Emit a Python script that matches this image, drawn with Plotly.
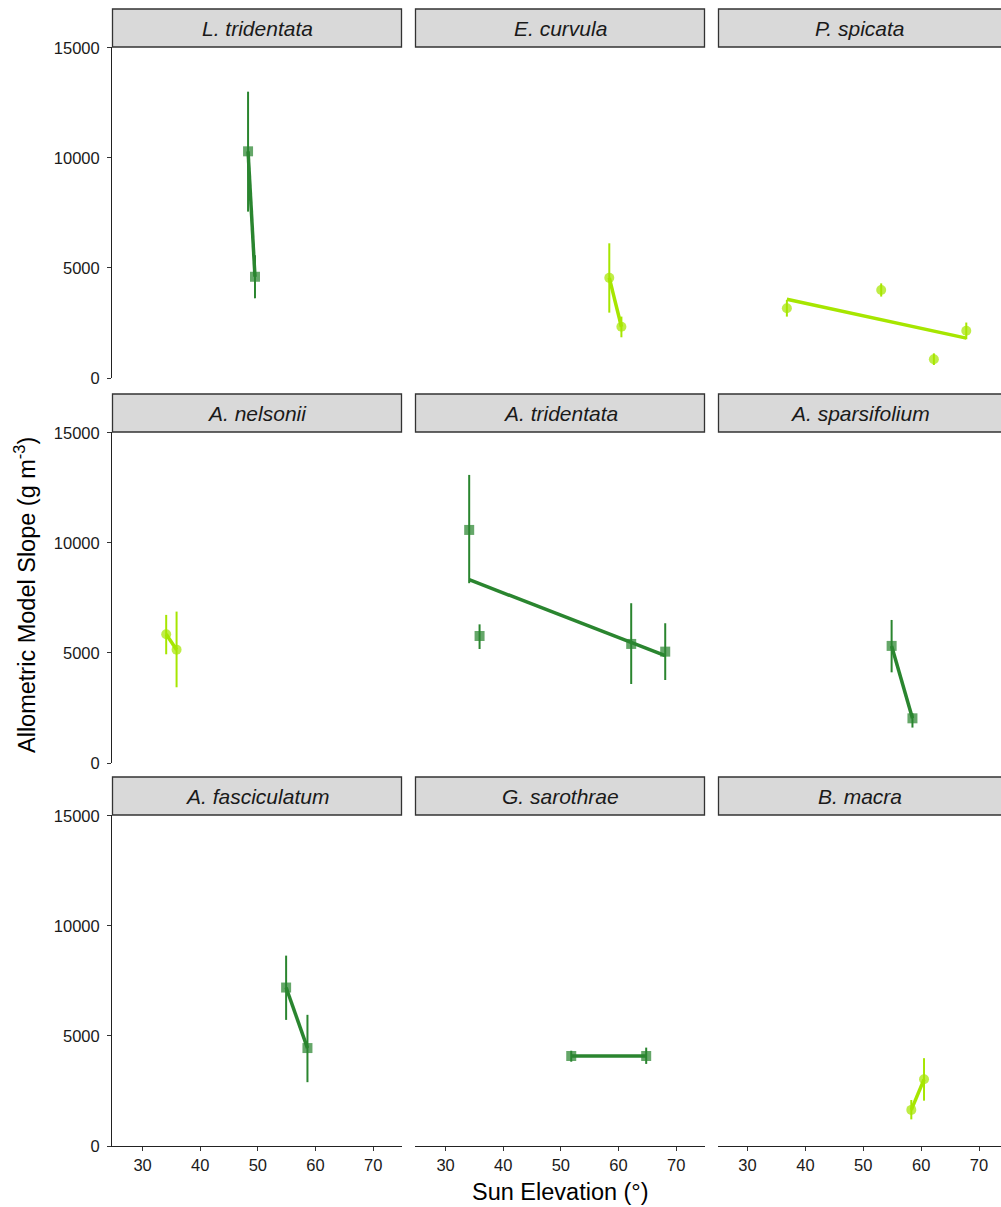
import numpy as np
import plotly.graph_objects as go

# ---------------- data ----------------
panels = ["L. tridentata", "E. curvula", "P. spicata",
          "A. nelsonii", "A. tridentata", "A. sparsifolium",
          "A. fasciculatum", "G. sarothrae", "B. macra"]
panel_group = ["dark", "light", "light",
               "light", "dark", "dark",
               "dark", "dark", "light"]

point_species = ["L. tridentata", "L. tridentata",
                 "E. curvula", "E. curvula",
                 "P. spicata", "P. spicata", "P. spicata", "P. spicata",
                 "A. nelsonii", "A. nelsonii",
                 "A. tridentata", "A. tridentata", "A. tridentata", "A. tridentata",
                 "A. sparsifolium", "A. sparsifolium",
                 "A. fasciculatum", "A. fasciculatum",
                 "G. sarothrae", "G. sarothrae",
                 "B. macra", "B. macra"]
sun_elevation = [48.3, 49.5,
                 58.4, 60.5,
                 36.8, 53.1, 62.2, 67.8,
                 34.1, 35.9,
                 34.1, 35.9, 62.2, 68.1,
                 54.9, 58.5,
                 54.9, 58.6,
                 51.8, 64.8,
                 58.3, 60.5]
model_slope = [10300, 4600,
               4550, 2330,
               3170, 4000, 850, 2150,
               5850, 5150,
               10590, 5770, 5410, 5060,
               5320, 2030,
               7200, 4450,
               4090, 4090,
               1640, 3030]
slope_lower = [7560, 3620,
               2970, 1850,
               2790, 3700, 590, 1760,
               4940, 3440,
               8170, 5180, 3590, 3770,
               4120, 1610,
               5730, 2900,
               3830, 3730,
               1210, 2060]
slope_upper = [13010, 5580,
               6120, 2790,
               3550, 4300, 1120, 2520,
               6730, 6880,
               13090, 6300, 7260, 6350,
               6500, 2260,
               8650, 5960,
               4330, 4470,
               2090, 3990]

x_ticks = [30, 40, 50, 60, 70]
y_ticks = [0, 5000, 10000, 15000]

# ---------------- styling ----------------
W, H = 1001, 1207
colors = {"dark": "#2a852f", "light": "#a6e600"}
marker_fill = {"dark": "rgba(42,133,47,0.72)", "light": "rgba(166,230,0,0.72)"}
symbols = {"dark": "square", "light": "circle"}

col_px = [(112, 402), (415, 705), (718, 1001)]
row_px = [(47, 378), (432, 763), (815, 1146)]
strip_h = 38
x_ranges = [[24.7, 75.0], [24.7, 75.0], [24.9, 73.8]]
y_range = [0, 15040]

font_family = "Liberation Sans, Arial, sans-serif"
tick_font = dict(family=font_family, size=16.5, color="#1a1a1a")

fig = go.Figure()
layout = dict(width=W, height=H, margin=dict(l=0, r=0, t=0, b=0, autoexpand=False),
              plot_bgcolor="white", paper_bgcolor="white", showlegend=False)
shapes, annotations = [], []

sp_arr = np.array(point_species)
x_arr = np.array(sun_elevation, dtype=float)
y_arr = np.array(model_slope, dtype=float)
lo_arr = np.array(slope_lower, dtype=float)
hi_arr = np.array(slope_upper, dtype=float)

for i, name in enumerate(panels):
    r, c = divmod(i, 3)
    k = i + 1
    xa = f"x{k}" if k > 1 else "x"
    ya = f"y{k}" if k > 1 else "y"
    xkey = f"xaxis{k}" if k > 1 else "xaxis"
    ykey = f"yaxis{k}" if k > 1 else "yaxis"
    x0, x1 = col_px[c]
    y0, y1 = row_px[r]
    bottom = r == 2
    left = c == 0
    layout[xkey] = dict(domain=[x0 / W, x1 / W], range=x_ranges[c], anchor=ya,
                        tickvals=x_ticks, showticklabels=bottom, tickformat="d",
                        ticks="outside" if bottom else "", ticklen=4, tickwidth=1,
                        tickcolor="#333333", showline=bottom, linecolor="#222222",
                        linewidth=1, showgrid=False, zeroline=False, tickfont=tick_font)
    layout[ykey] = dict(domain=[1 - y1 / H, 1 - y0 / H], range=y_range, anchor=xa,
                        tickvals=y_ticks, showticklabels=left, tickformat="d",
                        ticks="outside" if left else "", ticklen=4, tickwidth=1,
                        ticklabelstandoff=4,
                        tickcolor="#333333", showline=left, linecolor="#222222",
                        linewidth=1, showgrid=False, zeroline=False, tickfont=tick_font)

    g = panel_group[i]
    m = sp_arr == name
    xs, ys, los, his = x_arr[m], y_arr[m], lo_arr[m], hi_arr[m]
    fig.add_trace(go.Scatter(
        x=xs, y=ys, mode="markers", xaxis=xa, yaxis=ya,
        marker=dict(symbol=symbols[g], size=10, color=marker_fill[g], line=dict(width=0)),
        error_y=dict(type="data", symmetric=False, array=his - ys, arrayminus=ys - los,
                     width=0, thickness=2, color=colors[g]),
        hoverinfo="skip"))
    # linear fit across observed range
    slope, intercept = np.polyfit(xs, ys, 1)
    xl = np.array([xs.min(), xs.max()])
    fig.add_trace(go.Scatter(
        x=xl, y=slope * xl + intercept, mode="lines", xaxis=xa, yaxis=ya,
        line=dict(color=colors[g], width=3.5), hoverinfo="skip"))

    # strip
    sy0 = y0 - strip_h
    shapes.append(dict(type="rect", xref="paper", yref="paper",
                       x0=(x0 + 0.5) / W, x1=(x1 - 0.5) / W if x1 < W else 1.002,
                       y0=1 - y0 / H, y1=1 - sy0 / H,
                       fillcolor="#d9d9d9", line=dict(color="#333333", width=1.3)))
    annotations.append(dict(xref="paper", yref="paper", x=(x0 + min(x1, 1008)) / 2 / W,
                            y=1 - (sy0 + strip_h / 2) / H, text=f"<i>{name}</i>",
                            showarrow=False, xanchor="center", yanchor="middle",
                            font=dict(family=font_family, size=21, color="#1a1a1a")))

annotations.append(dict(xref="paper", yref="paper", x=560 / W, y=1 - 1192 / H,
                        text="Sun Elevation (°)", showarrow=False,
                        xanchor="center", yanchor="middle",
                        font=dict(family=font_family, size=23.5, color="#000000")))
annotations.append(dict(xref="paper", yref="paper", x=25 / W, y=1 - 595 / H,
                        text="Allometric Model Slope (g m<sup>-3</sup>)", showarrow=False,
                        textangle=-90, xanchor="center", yanchor="middle",
                        font=dict(family=font_family, size=23.5, color="#000000")))

layout["shapes"] = shapes
layout["annotations"] = annotations
fig.update_layout(**layout)
fig.write_html("out.html", config={"displayModeBar": False},
               post_script="document.body.style.margin='0px';"
                           "document.body.style.overflow='hidden';")
